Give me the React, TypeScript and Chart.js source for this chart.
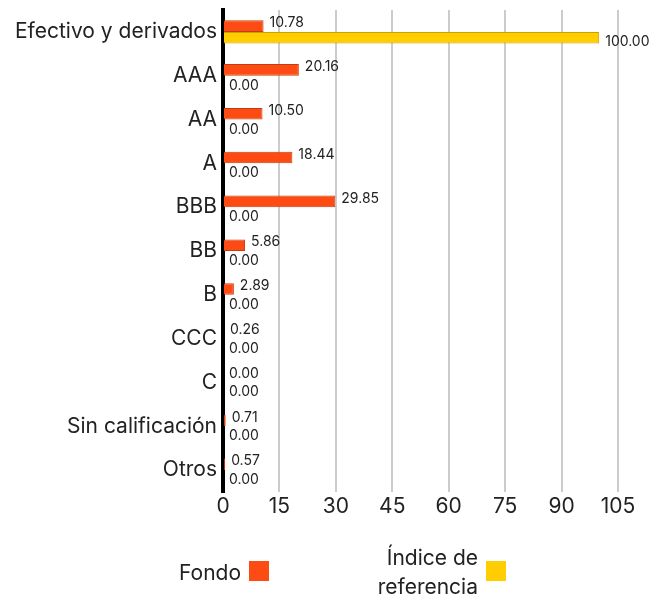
import React, { useEffect, useRef } from "react";
import { Chart, registerables } from "chart.js";

Chart.register(...registerables);

const categories = [
  "Efectivo y derivados",
  "AAA",
  "AA",
  "A",
  "BBB",
  "BB",
  "B",
  "CCC",
  "C",
  "Sin calificación",
  "Otros",
];
const fondo = [10.78, 20.16, 10.5, 18.44, 29.85, 5.86, 2.89, 0.26, 0.0, 0.71, 0.57];
const indice = [100.0, 0, 0, 0, 0, 0, 0, 0, 0, 0, 0];
const xTicks = [0, 15, 30, 45, 60, 75, 90, 105];
const seriesNames = ["Fondo", "Índice de referencia"];

const FONT = "Inter, 'Noto Sans', sans-serif";
const ORANGE = "#FC4C14";
const YELLOW = "#FFCD00";

const labelPlugin = {
  id: "valueLabels",
  afterDatasetsDraw(chart: any) {
    const ctx = chart.ctx;
    ctx.save();
    ctx.font = `14px ${FONT}`;
    ctx.fillStyle = "#222";
    ctx.textAlign = "left";
    ctx.textBaseline = "middle";
    chart.data.datasets.forEach((ds: any, di: number) => {
      const meta = chart.getDatasetMeta(di);
      meta.data.forEach((bar: any, i: number) => {
        const v = ds.data[i] as number;
        const x = Math.max(bar.x, bar.base) + 6;
        const y = bar.y + (di === 0 ? -3 : 4);
        ctx.fillText(v.toFixed(2), x, y);
      });
    });
    ctx.restore();
  },
};

export default function App() {
  const ref = useRef<HTMLCanvasElement>(null);
  useEffect(() => {
    if (!ref.current) return;
    const chart = new Chart(ref.current, {
      type: "bar",
      data: {
        labels: categories,
        datasets: [
          {
            label: seriesNames[0],
            data: fondo,
            backgroundColor: ORANGE,
            borderColor: "#C83A10",
            borderWidth: 1,
            categoryPercentage: 0.53,
            barPercentage: 1,
          },
          {
            label: seriesNames[1],
            data: indice,
            backgroundColor: YELLOW,
            borderColor: "#C9A200",
            borderWidth: 1,
            categoryPercentage: 0.53,
            barPercentage: 1,
          },
        ],
      },
      options: {
        indexAxis: "y",
        animation: false,
        responsive: false,
        maintainAspectRatio: false,
        layout: { padding: { left: 0, right: 46, top: 10, bottom: 75 } },
        plugins: {
          legend: { display: false },
          tooltip: { enabled: false },
        },
        scales: {
          x: {
            min: 0,
            max: 105,
            afterBuildTicks: (scale: any) => {
              scale.ticks = xTicks.map((v) => ({ value: v }));
            },
            ticks: {
              color: "#222",
              font: { family: FONT, size: 21 },
              padding: 2,
            },
            grid: {
              color: (c: any) => (c.index === 0 ? "rgba(0,0,0,0)" : "#cccccc"),
              lineWidth: 2,
              drawTicks: false,
            },
            border: { display: false },
            afterFit: (scale: any) => {
              scale.height = 28;
              scale.paddingLeft = 0;
              scale.paddingRight = 0;
            },
          },
          y: {
            ticks: {
              color: "#222",
              font: { family: FONT, size: 21 },
              padding: 6,
            },
            grid: { display: false, drawTicks: false },
            border: { color: "#000", width: 4 },
            afterFit: (scale: any) => {
              scale.width = 223;
              scale.paddingTop = 0;
              scale.paddingBottom = 0;
            },
          },
        },
      },
      plugins: [labelPlugin],
    });
    return () => chart.destroy();
  }, []);

  const legendText: React.CSSProperties = {
    position: "absolute",
    fontFamily: FONT,
    fontSize: 21,
    color: "#222",
    lineHeight: "29px",
  };
  return (
    <div style={{ position: "fixed", left: 0, top: 0, width: 664, height: 595, background: "#fff" }}>
      <canvas ref={ref} width={664} height={595} style={{ display: "block" }} />
      <div style={{ ...legendText, left: 100, width: 141, top: 558, textAlign: "right" }}>{seriesNames[0]}</div>
      <div style={{ position: "absolute", left: 249, top: 561, width: 20, height: 20, background: ORANGE }} />
      <div style={{ ...legendText, left: 330, width: 148, top: 543, textAlign: "right" }}>
        Índice de
        <br />
        referencia
      </div>
      <div style={{ position: "absolute", left: 486, top: 561, width: 20, height: 20, background: YELLOW }} />
    </div>
  );
}
